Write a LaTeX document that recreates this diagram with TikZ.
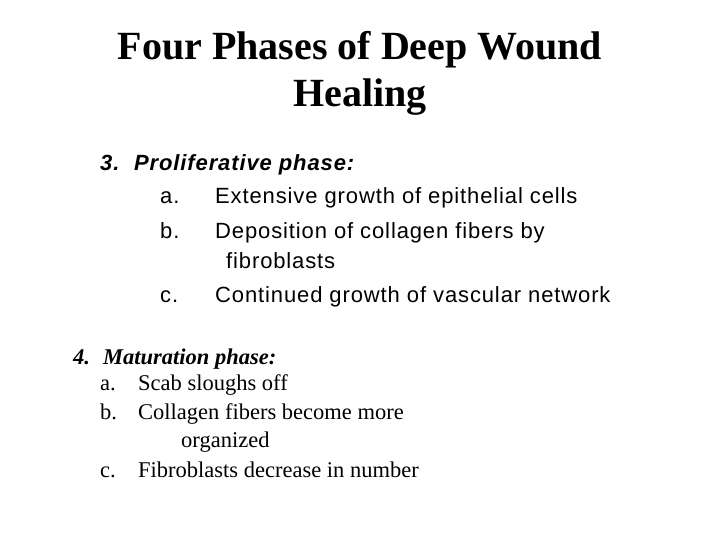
\documentclass[tikz,border=0pt]{standalone}
\usepackage{fontspec}
\setmainfont{Liberation Serif}
\newfontfamily\arialf[LetterSpace=4]{Liberation Sans}
\begin{document}
\begin{tikzpicture}[x=1pt,y=-1pt,
  t/.style={anchor=base west,inner sep=0pt},
  s3/.style={t,font=\arialf\fontsize{22}{24}\selectfont},
  s4/.style={t,font=\fontsize{22.5}{26}\selectfont}]
\useasboundingbox (0,0) rectangle (720,540);
\node[anchor=base,inner sep=0pt,font=\bfseries\fontsize{40}{44}\selectfont] (t1) at (360,60) {Four Phases of Deep Wound};
\node[anchor=base,inner sep=0pt,font=\bfseries\fontsize{40}{44}\selectfont] (t2) at (360,107) {Healing};
\node[s3,font=\arialf\bfseries\itshape\fontsize{22}{24}\selectfont] (p3n) at (100,171) {3.};
\node[s3,font=\arialf\bfseries\itshape\fontsize{22}{24}\selectfont] (p3) at (134,171) {Proliferative phase:};
\node[s3] (l3a) at (160,204) {a.};
\node[s3] (p3a) at (215,204) {Extensive growth of epithelial cells};
\node[s3] (l3b) at (160,238) {b.};
\node[s3] (p3b) at (215,238) {Deposition of collagen fibers by};
\node[s3] (p3b2) at (226,268) {fibroblasts};
\node[s3] (l3c) at (160,302) {c.};
\node[s3] (p3c) at (215,302) {Continued growth of vascular network};
\node[s4,font=\bfseries\itshape\fontsize{22.5}{26}\selectfont] (p4n) at (73,364) {4.};
\node[s4,font=\bfseries\itshape\fontsize{22.5}{26}\selectfont] (p4) at (103,364) {Maturation phase:};
\node[s4] (l4a) at (100,390) {a.};
\node[s4] (p4a) at (138,390) {Scab sloughs off};
\node[s4] (l4b) at (100,419) {b.};
\node[s4] (p4b) at (138,419) {Collagen fibers become more};
\node[s4] (p4b2) at (181,447) {organized};
\node[s4] (l4c) at (100,477) {c.};
\node[s4] (p4c) at (138,477) {Fibroblasts decrease in number};
\end{tikzpicture}
\end{document}
